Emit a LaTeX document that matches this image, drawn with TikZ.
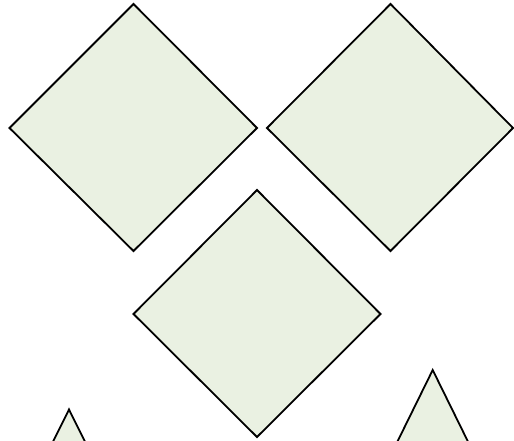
\documentclass[tikz,border=0pt]{standalone}
\definecolor{shapefill}{RGB}{234,241,226}
\begin{document}
\begin{tikzpicture}[x=1pt,y=-1pt,
  shp/.style={draw=black,fill=shapefill,line width=1.8pt,line join=miter}]
\useasboundingbox (0,0) rectangle (514,441);
\clip (0,0) rectangle (514,441);
% top-left diamond
\path[shp] (133.5,4) -- (257,128) -- (133.5,251) -- (9.5,128) -- cycle;
% top-right diamond
\path[shp] (390.5,4) -- (513,128) -- (390.5,251) -- (267,128) -- cycle;
% middle diamond
\path[shp] (257,190) -- (380.5,314) -- (257,437) -- (133.5,314) -- cycle;
% left triangle (cut by the frame)
\path[shp] (69,409.5) -- (105,482) -- (33,482) -- cycle;
% right triangle (cut by the frame)
\path[shp] (432.7,370) -- (480,466) -- (385.4,466) -- cycle;
\end{tikzpicture}
\end{document}
